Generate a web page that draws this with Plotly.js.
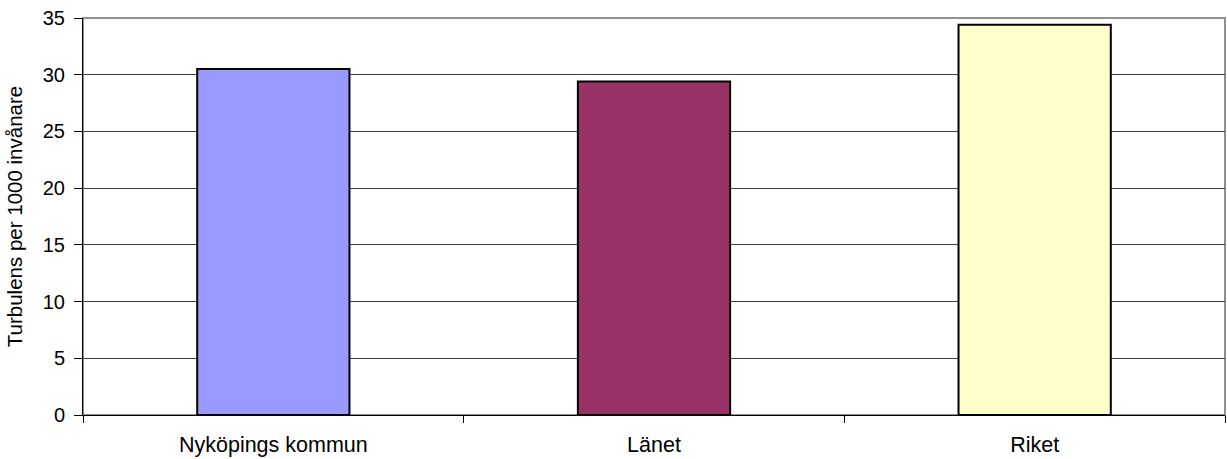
<!DOCTYPE html>
<html>
<head>
<meta charset="utf-8">
<script src="https://cdn.plot.ly/plotly-3.0.1.min.js"></script>
<style>
html,body{margin:0;padding:0;background:#fff;}
#chart{width:1227px;height:459px;}
</style>
</head>
<body>
<div id="chart"></div>
<script>
const categories = ["Nyköpings kommun", "Länet", "Riket"];
const values = [30.5, 29.4, 34.4];
const barColors = ["#9999FF", "#993366", "#FFFFCC"];
const yTitle = "Turbulens per 1000 invånare";

const trace = {
  type: "bar",
  x: categories,
  y: values,
  width: 0.4,
  marker: {color: barColors, line: {color: "#000000", width: 2}},
  hoverinfo: "x+y"
};

const layout = {
  width: 1227,
  height: 459,
  margin: {l: 83, r: 2, t: 18, b: 44, pad: 0},
  paper_bgcolor: "#ffffff",
  plot_bgcolor: "#ffffff",
  font: {family: "Liberation Sans, Arial, sans-serif", color: "#000000", size: 20},
  showlegend: false,
  xaxis: {
    type: "category",
    tickson: "boundaries",
    ticks: "outside",
    ticklen: 7,
    tickcolor: "#000000",
    showgrid: false,
    showline: true,
    linecolor: "#000000",
    linewidth: 1,
    ticklabelstandoff: 10,
    tickfont: {size: 21.5},
    fixedrange: true
  },
  yaxis: {
    range: [0, 35],
    dtick: 5,
    ticks: "outside",
    ticklen: 8,
    tickcolor: "#000000",
    showgrid: true,
    gridcolor: "#404040",
    gridwidth: 1,
    zeroline: false,
    showline: true,
    linecolor: "#000000",
    linewidth: 1,
    ticklabelstandoff: 5,
    tickfont: {size: 20},
    title: {text: yTitle, font: {size: 20.5}, standoff: 14},
    fixedrange: true
  },
  shapes: [{
    type: "rect", xref: "paper", yref: "paper",
    x0: 0, x1: 1, y0: 0, y1: 1,
    line: {color: "#909090", width: 2},
    layer: "below"
  }],
  bargap: 0.6
};

Plotly.newPlot("chart", [trace], layout, {displayModeBar: false, staticPlot: true});
</script>
</body>
</html>
